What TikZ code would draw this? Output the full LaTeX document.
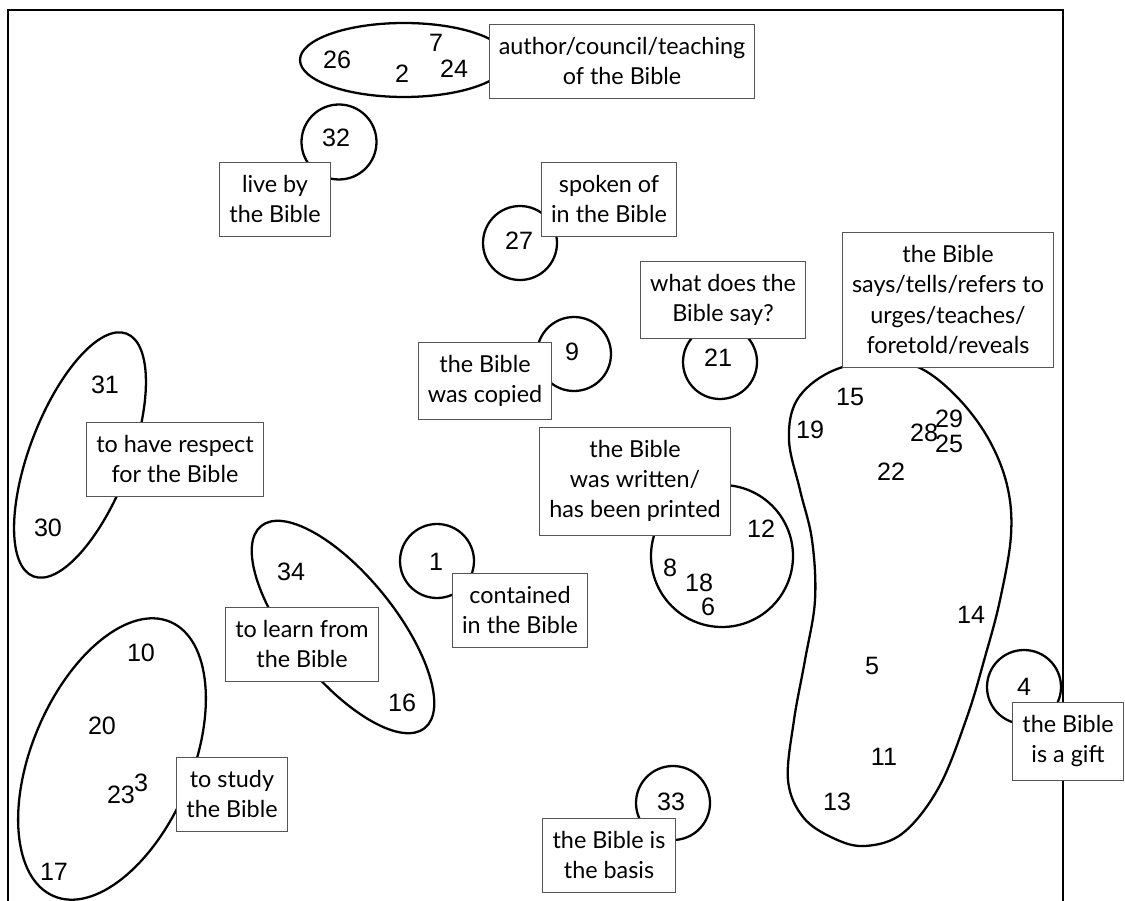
\documentclass[tikz,border=0pt]{standalone}
\usepackage{fontspec}
\setmainfont{Lato}
\newfontfamily\numfont{Liberation Sans}
\usetikzlibrary{positioning}

\definecolor{bbInk}{HTML}{000000}
\definecolor{bbEdge}{HTML}{555555}

\tikzset{
  tag/.style={draw=bbEdge, line width=0.5pt, fill=white, align=center,
    inner xsep=5.5pt, inner ysep=7.5pt, font=\fontsize{13.3}{17.2}\selectfont},
  num/.style={inner sep=0pt, text=bbInk, font=\numfont\fontsize{14.3}{16}\selectfont},
  group/.style={draw=bbInk, line width=1.3pt},
}

\begin{document}
\begin{tikzpicture}[x=0.02cm, y=-0.02cm]
  \useasboundingbox (0,0) rectangle (1125,901);

  % frame, open at the bottom
  \draw[line width=1.3pt] (8,901) -- (8,10) -- (1063,10) -- (1063,901);

  % groups
  \draw[group] (404,60) ellipse (104 and 37);
  \draw[group] (339,142) circle (37.5);
  \draw[group] (520,243) circle (37);
  \draw[group] (574,354) circle (37);
  \draw[group] (720,362) circle (37);
  \draw[group] (722,556) circle (71);
  \draw[group] (437,561) circle (37);
  \draw[group] (1024,687) circle (37);
  \draw[group] (673,803) circle (37);
  \draw[group, shift={(80,455)}, rotate=69] (0,0) ellipse (130 and 50);
  \draw[group, shift={(343,627)}, rotate=-51] (0,0) ellipse (130 and 52);
  \draw[group, shift={(112,759)}, rotate=67] (0,0) ellipse (149 and 80);
  \draw[group] plot[smooth cycle, tension=0.6] coordinates {
    (880,360) (830,372) (797,400) (789,440) (800,490) (812,540) (815,600)
    (805,660) (794,720) (788,780) (803,817) (833,838) (865,846) (903,833)
    (939,787) (967,717) (985,657) (1000,600) (1011,535) (1007,485)
    (988,438) (957,397) (920,368)};

  % numbers
  \node[num] (n26) at (337,60) {26};
  \node[num] (n2) at (402,74) {2};
  \node[num] (n7) at (436,43) {7};
  \node[num] (n24) at (454,69) {24};
  \node[num] (n32) at (336,138) {32};
  \node[num] (n27) at (519,241) {27};
  \node[num] (n9) at (572,352) {9};
  \node[num] (n21) at (718,358) {21};
  \node[num] (n31) at (105,385) {31};
  \node[num] (n30) at (48,528) {30};
  \node[num] (n1) at (436,562) {1};
  \node[num] (n34) at (291,572) {34};
  \node[num] (n16) at (402,703) {16};
  \node[num] (n12) at (761,529) {12};
  \node[num] (n8) at (670,568) {8};
  \node[num] (n18) at (699,583) {18};
  \node[num] (n6) at (708,607) {6};
  \node[num] (n15) at (850,397) {15};
  \node[num] (n19) at (810,430) {19};
  \node[num] (n28) at (924,433) {28};
  \node[num] (n29) at (949,419) {29};
  \node[num] (n25) at (949,444) {25};
  \node[num] (n22) at (891,472) {22};
  \node[num] (n14) at (971,615) {14};
  \node[num] (n5) at (872,666) {5};
  \node[num] (n11) at (884,757) {11};
  \node[num] (n13) at (837,802) {13};
  \node[num] (n4) at (1024,687) {4};
  \node[num] (n33) at (671,802) {33};
  \node[num] (n10) at (141,653) {10};
  \node[num] (n20) at (102,726) {20};
  \node[num] (n23) at (121,795) {23};
  \node[num] (n3) at (141,783) {3};
  \node[num] (n17) at (54,872) {17};

  % labels
  \node[tag] (author) at (622,61) {author/council/teaching\\of the Bible};
  \node[tag] (liveby) at (275,199) {live by\\the Bible};
  \node[tag] (spoken) at (609,199) {spoken of\\in the Bible};
  \node[tag] (whatsay) at (723,300) {what does the\\Bible say?};
  \node[tag] (says) at (948,300) {the Bible\\says/tells/refers to\\urges/teaches/\\foretold/reveals};
  \node[tag] (copied) at (485,381) {the Bible\\was copied};
  \node[tag] (respect) at (175,459) {to have respect\\for the Bible};
  \node[tag] (written) at (635,481) {the Bible\\was written/\\has been printed};
  \node[tag] (contained) at (520,610) {contained\\in the Bible};
  \node[tag] (learn) at (302,644) {to learn from\\the Bible};
  \node[tag] (study) at (232,794) {to study\\the Bible};
  \node[tag] (basis) at (609,855) {the Bible is\\the basis};
  \node[tag] (gift) at (1068,741) {the Bible\\is a gift};
\end{tikzpicture}
\end{document}
